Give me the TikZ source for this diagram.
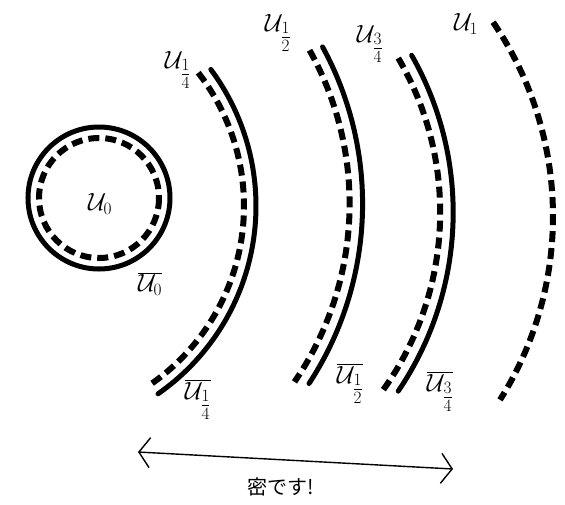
\documentclass[tikz,border=0pt]{standalone}
\usepackage{fontspec}
\newfontfamily\cjk{Noto Sans CJK JP}
\usetikzlibrary{arrows.meta}
\begin{document}
\begin{tikzpicture}[x=1pt,y=-1pt,
  solidline/.style={line width=5pt,line cap=round},
  dashline/.style={line width=6pt,dash pattern=on 11pt off 6pt},
  lbl/.style={font=\fontsize{24}{28}\selectfont,inner sep=0pt},
  arrowline/.style={line width=1.4pt,{Straight Barb[length=11pt,width=30pt]}-{Straight Barb[length=11pt,width=30pt]}}]
\useasboundingbox (0,0) rectangle (565,504);
% circle
\draw[solidline] (99,198) circle (71);
\draw[dashline] (99,198) circle (60);
% arc 1/4  (centre 27,206)
\draw[dashline] ([shift={(-37.9:217)}]27,206) arc[start angle=-37.9,end angle=55.5,radius=217];
\draw[solidline] ([shift={(-36.6:229)}]27,206) arc[start angle=-36.6,end angle=55.1,radius=229];
% arc 1/2  (centre 34.6,203.9)
\draw[dashline] ([shift={(-29.2:315)}]34.6,203.9) arc[start angle=-29.2,end angle=34.4,radius=315];
\draw[solidline] ([shift={(-28.6:328)}]34.6,203.9) arc[start angle=-28.6,end angle=33.2,radius=328];
% arc 3/4  (centre 135.2,212.4)
\draw[dashline] ([shift={(-30.4:305)}]135.2,212.4) arc[start angle=-30.4,end angle=35.6,radius=305];
\draw[solidline] ([shift={(-29.6:318)}]135.2,212.4) arc[start angle=-29.6,end angle=34.2,radius=318];
% arc 1  (centre 208.5,216.3)
\draw[dashline] ([shift={(-34.3:344.5)}]208.5,216.3) arc[start angle=-34.3,end angle=32.2,radius=344.5];
% labels
\node[lbl] (u0) at (100,204) {$\mathcal{U}_0$};
\node[lbl] (u0b) at (150,284) {$\overline{\mathcal{U}_0}$};
\node[lbl] (u14) at (178,70) {$\mathcal{U}_{\textstyle\frac14}$};
\node[lbl] (u12) at (278,33) {$\mathcal{U}_{\textstyle\frac12}$};
\node[lbl] (u34) at (370,44) {$\mathcal{U}_{\textstyle\frac34}$};
\node[lbl] (u1) at (466,24) {$\mathcal{U}_1$};
\node[lbl] (u14b) at (198,400) {$\overline{\mathcal{U}_{\textstyle\frac14}}$};
\node[lbl] (u12b) at (350,384) {$\overline{\mathcal{U}_{\textstyle\frac12}}$};
\node[lbl] (u34b) at (440,392) {$\overline{\mathcal{U}_{\textstyle\frac34}}$};
% arrow
\coordinate (al) at (138,452);
\coordinate (ar) at (453,469);
\draw[arrowline] (al) -- (ar);
\node[font=\cjk\fontsize{20}{24}\selectfont,inner sep=0pt] (mitsu) at (281,487) {密です!};
\end{tikzpicture}
\end{document}
